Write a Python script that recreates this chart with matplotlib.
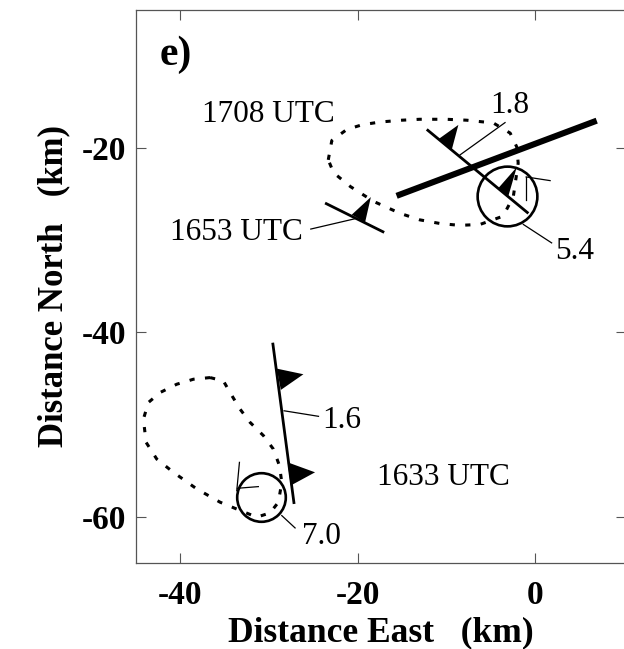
import matplotlib
matplotlib.use('Agg')
import matplotlib.pyplot as plt

plt.rcParams['font.family'] = ['Liberation Serif', 'DejaVu Serif']
plt.rcParams['axes.unicode_minus'] = False

# storm outlines (dashed), km east / km north
echo_1708_x = [-23.3, -22.9, -21.2, -19.5, -17.5, -15.0, -13.0, -10.0, -7.7, -4.7, -2.8, -2.06, -1.9,
               -2.45, -3.6, -6.2, -8.5, -10.7, -13.0, -15.2, -18.2, -20.8, -22.7, -23.3]
echo_1708_y = [-21.3, -19.2, -18.0, -17.5, -17.2, -17.0, -16.9, -16.9, -17.0, -17.3, -18.4, -19.9, -21.65,
               -25.3, -27.4, -28.3, -28.4, -28.2, -27.8, -27.1, -25.8, -24.2, -22.7, -21.3]

echo_1633_x = [-36.62, -35.12, -34.37, -33.24, -32.11, -30.6, -29.49, -28.8, -28.54, -28.92, -29.86,
               -31.36, -33.24, -35.49, -38.12, -40.75, -42.63, -43.83, -44.13, -43.57, -42.25, -40.37,
               -38.5, -36.62]
echo_1633_y = [-44.9, -45.26, -46.52, -48.32, -49.76, -51.2, -52.65, -54.45, -56.25, -58.41, -59.57,
               -60.03, -59.3, -58.41, -56.97, -55.17, -53.73, -51.92, -49.4, -47.6, -46.52, -45.62,
               -45.08, -44.9]

# gust fronts
front_1708 = ([-12.2, -0.75], [-18.0, -27.1])
front_1653 = ([-23.66, -17.0], [-25.98, -29.16])
front_1633 = ([-29.56, -27.15], [-41.12, -58.6])
thick_line = ([-15.6, 6.95], [-25.2, -17.05])

# pennants on the fronts (triangle vertices)
flags_x = [[-10.89, -8.64, -9.39], [-4.13, -2.06, -3.0], [-20.65, -18.5, -19.15],
           [-29.1, -26.1, -28.65], [-27.87, -24.79, -27.53]]
flags_y = [[-19.06, -17.51, -20.22], [-24.36, -22.09, -25.2], [-27.24, -25.33, -28.07],
           [-43.93, -44.54, -46.24], [-54.09, -55.17, -56.6]]

# circulation centres
circ_x = [-3.19, -30.9]
circ_y = [-25.26, -57.87]
circ_size = [43, 35]

# small wind marks inside circles
marks_x = [[-1.05, -1.05], [-1.0, 1.7], [-33.31, -33.61], [-33.54, -31.18]]
marks_y = [[-23.2, -25.7], [-23.15, -23.55], [-54.09, -57.16], [-56.9, -56.72]]

# leader lines and labels
leaders_x = [[-3.38, -8.45], [-25.27, -20.28], [-1.32, 1.87], [-28.28, -24.4], [-28.54, -27.04]]
leaders_y = [[-17.26, -20.76], [-28.8, -27.68], [-28.3, -30.3], [-48.5, -49.1], [-59.86, -61.2]]
labels = ['1708 UTC', '1.8', '1653 UTC', '5.4', '1.6', '1633 UTC', '7.0']
labels_x = [-37.55, -5.07, -41.13, 2.25, -24.03, -17.84, -26.3]
labels_y = [-17.16, -16.25, -29.95, -32.1, -50.4, -56.54, -62.92]

fig = plt.figure(figsize=(6.24, 6.49), dpi=100)
ax = fig.add_axes([135.7 / 624, (649 - 563) / 649, (626 - 135.7) / 624, (563 - 9.5) / 649])

ax.plot(echo_1708_x, echo_1708_y, color='k', lw=2.2, ls=(0, (1.7, 3.4)))
ax.plot(echo_1633_x, echo_1633_y, color='k', lw=2.2, ls=(0, (1.7, 3.4)))

ax.plot(thick_line[0], thick_line[1], color='k', lw=4.4, solid_capstyle='butt')
for fr in [front_1708, front_1653, front_1633]:
    ax.plot(fr[0], fr[1], color='k', lw=2.0, solid_capstyle='butt')

for fx, fy in zip(flags_x, flags_y):
    ax.fill(fx, fy, color='k', lw=0)

for cx, cy, cs in zip(circ_x, circ_y, circ_size):
    ax.plot(cx, cy, 'o', ms=cs, mfc='none', mec='k', mew=1.9)

for mx, my in zip(marks_x, marks_y):
    ax.plot(mx, my, color='k', lw=0.9)

for lx, ly in zip(leaders_x, leaders_y):
    ax.plot(lx, ly, color='k', lw=0.9)

for t, tx, ty in zip(labels, labels_x, labels_y):
    ax.text(tx, ty, t, fontsize=22.5, ha='left', va='baseline')

ax.text(-42.25, -11.03, 'e)', fontsize=30, fontweight='bold', ha='left', va='baseline')

ax.set_xlim(-45, 10.25)
ax.set_ylim(-65, -5)
ax.set_xticks([-40, -20, 0])
ax.set_yticks([-20, -40, -60])
ax.tick_params(direction='in', length=7.5, width=0.8, color='#555555', top=True, right=True,
               labelsize=24, pad=7)
ax.tick_params(axis='x', pad=12)
for lab in ax.get_xticklabels() + ax.get_yticklabels():
    lab.set_fontweight('bold')
for sp in ax.spines.values():
    sp.set_color('#555555')
    sp.set_linewidth(0.9)

ax.set_xlabel('Distance East   (km)', fontsize=25.5, fontweight='bold', labelpad=4)
ax.set_ylabel('Distance North   (km)', fontsize=25, fontweight='bold', labelpad=8)

fig.savefig('out.png', dpi=100)
